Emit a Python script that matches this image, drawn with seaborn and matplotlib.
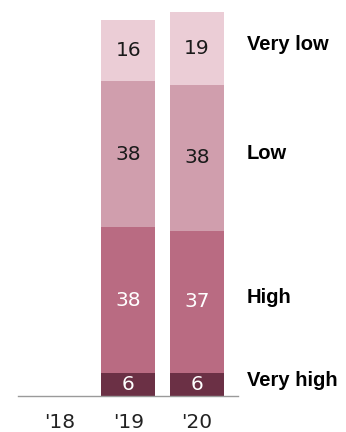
import numpy as np
import pandas as pd
import matplotlib
matplotlib.use("Agg")
import matplotlib.pyplot as plt
import seaborn as sns

# Survey shares by year (the '18 column has no data)
years = ["'18", "'19", "'20"]
data_years = ["'19", "'20"]
levels = ["Very high", "High", "Low", "Very low"]
very_high = [6, 6]
high = [38, 37]
low = [38, 38]
very_low = [16, 19]

colors = {"Very high": "#6b3045", "High": "#b96b82",
          "Low": "#d09ead", "Very low": "#ebcdd6"}
text_colors = {"Very high": "white", "High": "white",
               "Low": "#1a1a1a", "Very low": "#1a1a1a"}

sns.set_theme(style="white")
plt.rcParams["font.family"] = ["Liberation Sans", "DejaVu Sans"]
num_font = ["DejaVu Sans"]

df = pd.DataFrame({"year": data_years, "Very high": very_high, "High": high,
                   "Low": low, "Very low": very_low})
cum = df[levels].cumsum(axis=1)

fig = plt.figure(figsize=(3.46, 4.32), dpi=100)
ax = fig.add_axes([18 / 346, 36 / 432, 220 / 346, 384 / 432])

# Stack by overdrawing cumulative totals, tallest first
for lev in reversed(levels):
    sns.barplot(x=df["year"], y=cum[lev], order=years, color=colors[lev],
                width=0.79, saturation=1, ax=ax, edgecolor="none")

# Value labels at each segment's centre
for i, yr in enumerate(data_years):
    xpos = years.index(yr)
    base = 0
    for lev in levels:
        v = df.loc[i, lev]
        ax.text(xpos, base + v / 2, f"{v}", ha="center", va="center",
                fontsize=14.5, color=text_colors[lev], family=num_font)
        base += v

# Category labels to the right of the last bar
last = len(data_years) - 1
base = 0
for lev in levels:
    v = df.loc[last, lev]
    ax.annotate(lev, xy=(2.73, base + v / 2), xytext=(0, 3),
                textcoords="offset points", ha="left", va="center",
                fontsize=14.5, fontweight="bold", color="black",
                annotation_clip=False)
    base += v

ax.set_xlim(-0.613, 2.6)
ax.set_ylim(0, 100)
ax.set_xlabel("")
ax.set_ylabel("")
ax.set_yticks([])
ax.tick_params(axis="x", length=0, labelsize=14.5, pad=12, colors="#222222")
for lbl in ax.get_xticklabels():
    lbl.set_family(num_font)
for s in ["top", "left", "right"]:
    ax.spines[s].set_visible(False)
ax.spines["bottom"].set_color("#9a9a9a")
ax.spines["bottom"].set_linewidth(1)

fig.savefig("out.png", dpi=100)
